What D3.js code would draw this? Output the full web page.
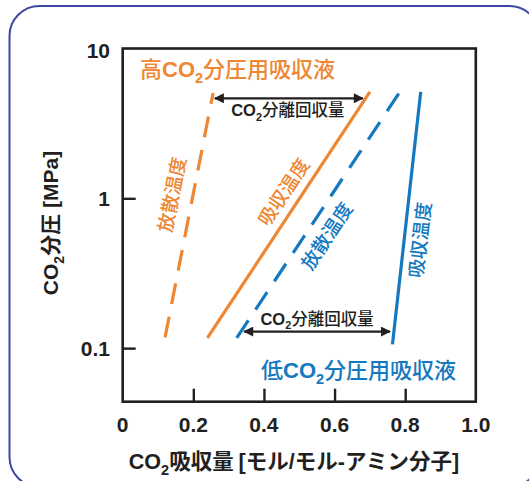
<!DOCTYPE html>
<html>
<head>
<meta charset="utf-8">
<script src="https://cdn.jsdelivr.net/npm/d3@7"></script>
<style>
  html, body { margin: 0; padding: 0; background: #fff; }
  svg { display: block; }
  text { font-family: "Liberation Sans", Arial, "Noto Sans CJK JP", sans-serif; }
  .jp { font-family: "Noto Sans CJK JP", sans-serif; }
</style>
</head>
<body>
<svg id="chart" width="529" height="481"></svg>
<script>
// Absorption capacity vs CO2 partial pressure, high / low pressure absorbents
const xTicks = [0, 0.2, 0.4, 0.6, 0.8, 1.0];
const xTickLabels = ["0", "0.2", "0.4", "0.6", "0.8", "1.0"];
const yTicks = [0.1, 1, 10];
const yTickLabels = ["0.1", "1", "10"];

// Each line: [loading, pressure] endpoints
const highRegen = [[0.12, 0.118], [0.256, 5.05]];   // 高CO2 放散温度 (dashed)
const highAbs   = [[0.24, 0.117], [0.70, 5.13]];    // 高CO2 吸収温度 (solid)
const lowRegen  = [[0.323, 0.117], [0.785, 5.13]];  // 低CO2 放散温度 (dashed)
const lowAbs    = [[0.764, 0.106], [0.844, 5.13]];  // 低CO2 吸収温度 (solid)

// Working capacity arrows: [from loading, to loading, pressure]
const highArrow = [0.261, 0.680, 4.65];
const lowArrow  = [0.344, 0.757, 0.129];

const ORANGE = "#EE8632";
const BLUE = "#1479BF";
const INK = "#231F20";

const svg = d3.select("#chart");

// rounded panel border
svg.append("rect")
  .attr("x", 9.5).attr("y", 6).attr("width", 530).attr("height", 481)
  .attr("rx", 30).attr("ry", 30)
  .attr("fill", "none").attr("stroke", "#3C48A2").attr("stroke-width", 2);

const L = 122.7, R = 475.8, T = 48.5, B = 401.7;
const x = d3.scaleLinear().domain([0, 1]).range([L, R]);
const y = d3.scaleLog().domain([0.0439, 10]).range([B, T]);

// frame
svg.append("rect")
  .attr("x", L).attr("y", T).attr("width", R - L).attr("height", B - T)
  .attr("fill", "none").attr("stroke", INK).attr("stroke-width", 2.6);

// inward ticks
const xAxis = d3.axisTop(x).tickValues(xTicks.slice(1, 5)).tickSize(13).tickFormat("");
svg.append("g").attr("transform", `translate(0,${B})`).call(xAxis)
  .call(g => g.select(".domain").remove())
  .call(g => g.selectAll("line").attr("stroke", INK).attr("stroke-width", 2.4));

const yAxis = d3.axisRight(y).tickValues([0.1, 1]).tickSize(13).tickFormat("");
svg.append("g").attr("transform", `translate(${L},0)`).call(yAxis)
  .call(g => g.select(".domain").remove())
  .call(g => g.selectAll("line").attr("stroke", INK).attr("stroke-width", 2.4));

// tick labels
svg.append("g").selectAll("text").data(xTicks).join("text")
  .attr("x", d => x(d)).attr("y", 432)
  .attr("text-anchor", "middle")
  .attr("font-size", 21).attr("font-weight", "bold").attr("fill", INK)
  .text((d, i) => xTickLabels[i]);

svg.append("g").selectAll("text").data(yTicks).join("text")
  .attr("x", 110).attr("y", d => d === 10 ? y(d) + 2 : y(d))
  .attr("dy", "0.36em")
  .attr("text-anchor", "end")
  .attr("font-size", 21).attr("font-weight", "bold").attr("fill", INK)
  .text((d, i) => yTickLabels[i]);

// text helper: CO2 prefix with subscript, then Japanese tail
function co2Text(sel, size, tail, tailJp) {
  sel.append("tspan").attr("font-weight", "bold").text("CO");
  sel.append("tspan").attr("font-weight", "bold")
    .attr("font-size", size * 0.66).attr("dy", size * 0.28).text("2");
  const t = sel.append("tspan").attr("dy", -size * 0.28);
  t.attr("class", "jp").attr("font-weight", tailJp).text(tail);
  return sel;
}

// axis titles
const xt = svg.append("text").attr("x", 294).attr("y", 469)
  .attr("text-anchor", "middle").attr("font-size", 21.5).attr("fill", INK);
xt.append("tspan").attr("font-weight", "bold").text("CO");
xt.append("tspan").attr("font-weight", "bold").attr("font-size", 14.5).attr("dy", 6).text("2");
xt.append("tspan").attr("class", "jp").attr("font-weight", 700).attr("dy", -6).text("吸収量 ");
xt.append("tspan").attr("font-weight", "bold").text("[");
xt.append("tspan").attr("class", "jp").attr("font-weight", 700).text("モル");
xt.append("tspan").attr("font-weight", "bold").text("/");
xt.append("tspan").attr("class", "jp").attr("font-weight", 700).text("モル");
xt.append("tspan").attr("font-weight", "bold").text("-");
xt.append("tspan").attr("class", "jp").attr("font-weight", 700).text("アミン分子");
xt.append("tspan").attr("font-weight", "bold").text("]");

const yt = svg.append("text")
  .attr("transform", "translate(58,223) rotate(-90)")
  .attr("text-anchor", "middle").attr("font-size", 21).attr("fill", INK);
yt.append("tspan").attr("font-weight", "bold").text("CO");
yt.append("tspan").attr("font-weight", "bold").attr("font-size", 14).attr("dy", 6).text("2");
yt.append("tspan").attr("class", "jp").attr("font-weight", 700).attr("dy", -6).text("分圧");
yt.append("tspan").attr("font-weight", "bold").text(" [MPa]");

// isotherm lines
const line = d3.line().x(d => x(d[0])).y(d => y(d[1]));
const series = [
  { pts: highRegen, color: ORANGE, dash: "21,13" },
  { pts: highAbs,   color: ORANGE, dash: null },
  { pts: lowRegen,  color: BLUE,   dash: "21,13" },
  { pts: lowAbs,    color: BLUE,   dash: null }
];
svg.append("g").selectAll("path").data(series).join("path")
  .attr("d", d => line(d.pts))
  .attr("fill", "none")
  .attr("stroke", d => d.color)
  .attr("stroke-width", 3.2)
  .attr("stroke-dasharray", d => d.dash);

// arrowheads
const defs = svg.append("defs");
defs.append("marker").attr("id", "ah")
  .attr("viewBox", "0 0 10 10").attr("refX", 9).attr("refY", 5)
  .attr("markerUnits", "userSpaceOnUse")
  .attr("markerWidth", 11).attr("markerHeight", 10)
  .attr("orient", "auto-start-reverse")
  .append("path").attr("d", "M0,0 L10,5 L0,10 Z").attr("fill", INK);

[highArrow, lowArrow].forEach(a => {
  svg.append("line")
    .attr("x1", x(a[0])).attr("x2", x(a[1]))
    .attr("y1", y(a[2])).attr("y2", y(a[2]))
    .attr("stroke", INK).attr("stroke-width", 2.2)
    .attr("marker-start", "url(#ah)").attr("marker-end", "url(#ah)");
});

// arrow captions
function caption(cx, cy) {
  const t = svg.append("text").attr("x", cx).attr("y", cy)
    .attr("text-anchor", "middle").attr("font-size", 16.5).attr("fill", INK);
  co2Text(t, 16.5, "分離回収量", 500);
}
caption((x(highArrow[0]) + x(highArrow[1])) / 2 - 1, y(highArrow[2]) + 18);
caption((x(lowArrow[0]) + x(lowArrow[1])) / 2 + 0, y(lowArrow[2]) - 7);

// absorbent titles
const hiT = svg.append("text").attr("x", 140).attr("y", 77)
  .attr("font-size", 22).attr("fill", ORANGE);
hiT.append("tspan").attr("class", "jp").attr("font-weight", 500).text("高");
co2Text(hiT, 22, "分圧用吸収液", 500);

const loT = svg.append("text").attr("x", 261).attr("y", 378)
  .attr("font-size", 22).attr("fill", BLUE);
loT.append("tspan").attr("class", "jp").attr("font-weight", 500).text("低");
co2Text(loT, 22, "分圧用吸収液", 500);

// temperature labels along the lines
function angleOf(pts) {
  const dx = x(pts[1][0]) - x(pts[0][0]);
  const dy = y(pts[1][1]) - y(pts[0][1]);
  return Math.atan2(dy, dx) * 180 / Math.PI;
}
const tempLabels = [
  { text: "放散温度", at: [0.14, 1.06], pts: highRegen, color: ORANGE },
  { text: "吸収温度", at: [0.456, 1.1], pts: highAbs, color: ORANGE },
  { text: "放散温度", at: [0.578, 0.56], pts: lowRegen, color: BLUE },
  { text: "吸収温度", at: [0.842, 0.527], pts: lowAbs, color: BLUE }
];
svg.append("g").selectAll("text").data(tempLabels).join("text")
  .attr("class", "jp")
  .attr("transform", d => `translate(${x(d.at[0])},${y(d.at[1])}) rotate(${angleOf(d.pts)})`)
  .attr("text-anchor", "middle").attr("dy", "0.36em")
  .attr("font-size", 19).attr("font-weight", 500)
  .attr("fill", d => d.color)
  .text(d => d.text);
</script>
</body>
</html>
